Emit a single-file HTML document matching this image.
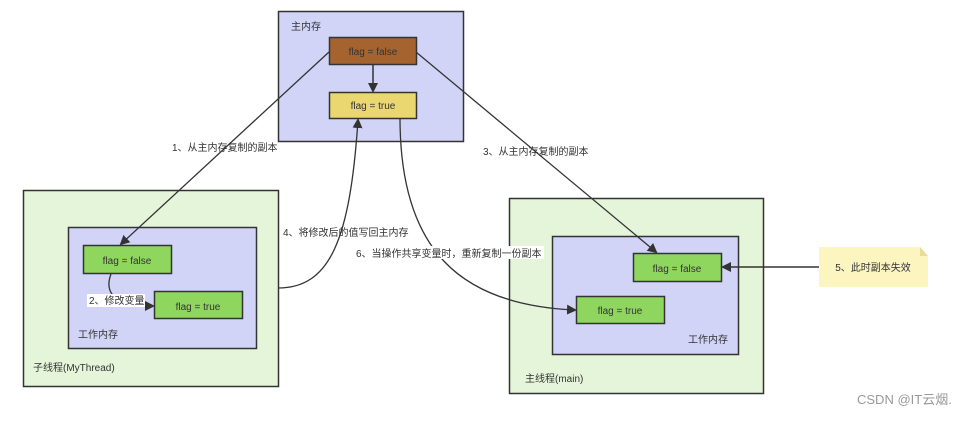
<!DOCTYPE html>
<html><head><meta charset="utf-8"><style>
body{margin:0;background:#fff;}
svg text{font-family:"Liberation Sans","Noto Sans CJK SC",sans-serif;font-size:10px;fill:#333;}
</style></head><body>
<svg width="973" height="417" viewBox="0 0 973 417" xmlns="http://www.w3.org/2000/svg">
<defs><marker id="a" markerWidth="10" markerHeight="10" refX="8" refY="5" orient="auto" markerUnits="userSpaceOnUse"><path d="M0,0 L10,5 L0,10 z" fill="#333"/></marker></defs>
<rect x="278.5" y="11.5" width="185" height="130" fill="#d1d4f7" stroke="#333" stroke-width="1.5"/>
<text x="291" y="30">主内存</text>
<rect x="329.5" y="37.5" width="87" height="27" fill="#a5642f" stroke="#333" stroke-width="1.5"/>
<text x="373" y="55" text-anchor="middle">flag = false</text>
<rect x="329.5" y="92.5" width="87" height="26" fill="#ead770" stroke="#333" stroke-width="1.5"/>
<text x="373" y="109" text-anchor="middle">flag = true</text>
<line x1="373" y1="64" x2="373" y2="91" stroke="#333" stroke-width="1.5" marker-end="url(#a)"/>
<rect x="23.5" y="190.5" width="255" height="196" fill="#e4f5da" stroke="#333" stroke-width="1.5"/>
<rect x="68.5" y="227.5" width="188" height="121" fill="#d1d4f7" stroke="#333" stroke-width="1.5"/>
<text x="78" y="338">工作内存</text>
<text x="33" y="371">子线程(MyThread)</text>
<rect x="83.5" y="245.5" width="88" height="28" fill="#8fd65f" stroke="#333" stroke-width="1.5"/>
<text x="127" y="264" text-anchor="middle">flag = false</text>
<rect x="154.5" y="291.5" width="88" height="27" fill="#8fd65f" stroke="#333" stroke-width="1.5"/>
<text x="198" y="310" text-anchor="middle">flag = true</text>
<rect x="509.5" y="198.5" width="254" height="195" fill="#e4f5da" stroke="#333" stroke-width="1.5"/>
<rect x="552.5" y="236.5" width="186" height="118" fill="#d1d4f7" stroke="#333" stroke-width="1.5"/>
<text x="688" y="343">工作内存</text>
<text x="525" y="382">主线程(main)</text>
<rect x="633.5" y="253.5" width="88" height="28" fill="#8fd65f" stroke="#333" stroke-width="1.5"/>
<text x="677" y="272" text-anchor="middle">flag = false</text>
<rect x="576.5" y="296.5" width="88" height="27" fill="#8fd65f" stroke="#333" stroke-width="1.5"/>
<text x="620" y="314" text-anchor="middle">flag = true</text>
<path d="M819,247 L920,247 L928,256 L928,287 L819,287 z" fill="#fdf5c0"/>
<path d="M920,247 L920,256 L928,256 z" fill="#e8dc9a"/>
<text x="873" y="271" text-anchor="middle">5、此时副本失效</text>
<line x1="819" y1="267" x2="723" y2="267" stroke="#333" stroke-width="1.5" marker-end="url(#a)"/>
<line x1="329" y1="52" x2="121" y2="244" stroke="#333" stroke-width="1.3" marker-end="url(#a)"/>
<text x="172" y="151">1、从主内存复制的副本</text>
<line x1="416" y1="52" x2="656" y2="252" stroke="#333" stroke-width="1.3" marker-end="url(#a)"/>
<text x="483" y="155">3、从主内存复制的副本</text>
<path d="M111,274 C105,290 110,306 153,306" fill="none" stroke="#333" stroke-width="1.3" marker-end="url(#a)"/>
<rect x="87" y="294" width="58" height="13" fill="#fff"/>
<text x="89" y="304">2、修改变量</text>
<path d="M278,288 C330,288 350,240 358,120" fill="none" stroke="#333" stroke-width="1.3" marker-end="url(#a)"/>
<text x="283" y="236">4、将修改后的值写回主内存</text>
<path d="M400,118 C400,250 460,305 575,310" fill="none" stroke="#333" stroke-width="1.3" marker-end="url(#a)"/>
<rect x="354" y="246" width="190" height="13" fill="#fff"/>
<text x="356" y="257">6、当操作共享变量时，重新复制一份副本</text>
<text x="857" y="404" style="font-size:13px;fill:#999">CSDN @IT云烟.</text>
</svg>
</body></html>
